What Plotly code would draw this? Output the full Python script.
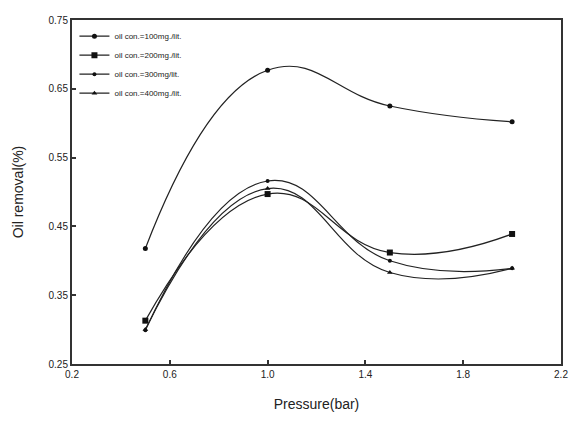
import plotly.graph_objects as go

pressure = [0.5, 1.0, 1.5, 2.0]
oil_100 = [0.418, 0.677, 0.625, 0.602]
oil_200 = [0.313, 0.497, 0.412, 0.439]
oil_300 = [0.299, 0.516, 0.400, 0.389]
oil_400 = [0.300, 0.505, 0.383, 0.389]

names = ["oil con.=100mg./lit.", "oil con.=200mg./lit.", "oil con.=300mg/lit.", "oil con.=400mg./lit."]
series = [oil_100, oil_200, oil_300, oil_400]
symbols = ["circle", "square", "circle", "triangle-up"]
sizes = [5, 6, 4, 5]

fig = go.Figure()
for nm, ys, sym, sz in zip(names, series, symbols, sizes):
    fig.add_trace(go.Scatter(
        x=pressure, y=ys, name=nm, mode="lines+markers",
        line=dict(color="#222222", width=1.2, shape="spline", smoothing=1.3),
        marker=dict(symbol=sym, size=sz, color="#111111"),
    ))

fig.update_layout(
    width=573, height=421,
    margin=dict(l=72, r=5, t=20, b=57),
    paper_bgcolor="white", plot_bgcolor="white",
    font=dict(family="Liberation Sans, Arial, sans-serif", color="#222222"),
    showlegend=True,
    legend=dict(x=0.005, y=0.995, xanchor="left", yanchor="top",
                font=dict(size=8, color="#222222"), bgcolor="rgba(0,0,0,0)",
                tracegroupgap=0, itemwidth=30),
)
fig.update_xaxes(
    range=[0.2, 2.2], tickmode="linear", tick0=0.2, dtick=0.4, tickformat=".1f",
    showgrid=False, zeroline=False, showline=True, linecolor="#333333", linewidth=2,
    mirror=True, ticks="inside", ticklen=4, tickwidth=1.5, tickcolor="#333333",
    tickfont=dict(size=10), ticklabeloverflow="allow",
    title=dict(text="Pressure(bar)", font=dict(size=14), standoff=20),
)
fig.update_yaxes(
    range=[0.25, 0.75], tickmode="linear", tick0=0.25, dtick=0.1, tickformat=".2f",
    showgrid=False, zeroline=False, showline=True, linecolor="#333333", linewidth=2,
    mirror=True, ticks="inside", ticklen=4, tickwidth=1.5, tickcolor="#333333",
    tickfont=dict(size=10),
    title=dict(text="Oil removal(%)", font=dict(size=14), standoff=22),
)

fig.write_html("out.html")
